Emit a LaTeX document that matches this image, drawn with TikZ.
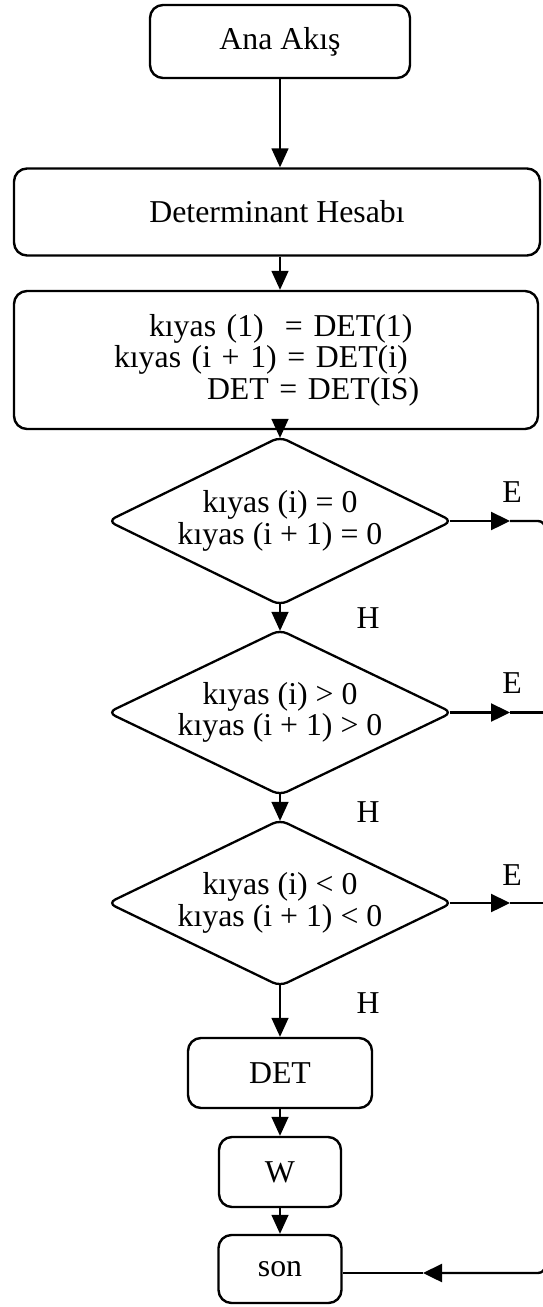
\documentclass[tikz,border=0pt]{standalone}
\usepackage{fontspec}
\setmainfont{Liberation Serif}
\usetikzlibrary{shapes.geometric,arrows.meta}
\begin{document}
\begin{tikzpicture}[x=1pt,y=-1pt,
  every node/.style={font=\fontsize{31.8}{31.5}\selectfont},
  box/.style={draw, line width=2.4pt, rounded corners=13pt, inner sep=0pt},
  cond/.style={draw, diamond, line width=2.3pt, rounded corners=8pt,
    minimum width=345pt, minimum height=169pt, aspect=2.07,
    inner sep=0pt, align=center},
  flow/.style={line width=1.5pt, -{Triangle[length=19pt,width=17pt]}},
  yes/.style={line width=2.4pt},
  tip/.style={-{Triangle[length=19pt,width=18pt]}},
  tag/.style={inner sep=0pt}
]
\useasboundingbox (0,0) rectangle (543,1307);

% process boxes
\node[box, minimum width=260pt, minimum height=73pt] (start) at (280,41.5) {Ana Akış};
\node[box, minimum width=526pt, minimum height=87pt] (det) at (277,212) {Determinant Hesabı};
\node[box, minimum height=138pt, text width=324pt, align=left, inner xsep=100pt] (calc) at (276,360)
  {\hspace*{35pt}kıyas (1)\ \ = DET(1)\\kıyas (i + 1) = DET(i)\\\hspace*{93pt}DET = DET(IS)};

% decisions
\node[cond] (c1) at (280,521) {kıyas (i) = 0\\kıyas (i + 1) = 0};
\node[cond, minimum height=166pt] (c2) at (280,712.5) {kıyas (i) > 0\\kıyas (i + 1) > 0};
\node[cond, minimum height=167pt] (c3) at (280,903) {kıyas (i) < 0\\kıyas (i + 1) < 0};

% final boxes
\node[box, minimum width=184pt, minimum height=70pt] (detb) at (280,1073) {DET};
\node[box, minimum width=122pt, minimum height=70pt] (w) at (280,1172) {W};
\node[box, minimum width=123pt, minimum height=68pt] (son) at (280,1269) {son};

% branch labels
\node[tag] (e1) at (512,492) {E};
\node[tag] (e2) at (512,683) {E};
\node[tag] (e3) at (512,875) {E};
\node[tag] (h1) at (368,618) {H};
\node[tag] (h2) at (368,812) {H};
\node[tag] (h3) at (368,1003) {H};

% main flow
\draw[flow] (c1 |- start.south) -- (c1 |- det.north);
\draw[flow] (c1 |- det.south) -- (c1 |- calc.north);
\draw[flow, shorten >=-2.5pt] (c1 |- calc.south) -- (c1.north);
\draw[flow, shorten <=-2.5pt, shorten >=-2.5pt] (c1.south) -- (c2.north);
\draw[flow, shorten <=-2.5pt, shorten >=-2.5pt] (c2.south) -- (c3.north);
\draw[flow, shorten <=-2.5pt] (c3.south) -- (detb.north);
\draw[flow] (detb.south) -- (w.north);
\draw[flow] (w.south) -- (son.north);

% "E" branches to the right rail and back to son
\coordinate (ax) at (510,0);
\coordinate (rail) at (545,0);
\coordinate (bot) at (0,1273);
\coordinate (bt) at (423,0);
\draw[yes, tip, shorten <=-4pt] (c1.east) -- (ax |- c1.east);
\draw[yes, tip, shorten <=-4pt] (c2.east) -- (ax |- c2.east);
\draw[yes, tip, shorten <=-4pt] (c3.east) -- (ax |- c3.east);
\draw[yes] (ax |- c2.east) -- (rail |- c2.east);
\draw[yes] (ax |- c3.east) -- (rail |- c3.east);
\draw[yes, tip, rounded corners=7pt] (ax |- c1.east) -- (rail |- c1.east) -- (rail |- bot) -- (bt |- bot);
\draw[yes] (bt |- bot) -- (son.east |- bot);
\end{tikzpicture}
\end{document}
